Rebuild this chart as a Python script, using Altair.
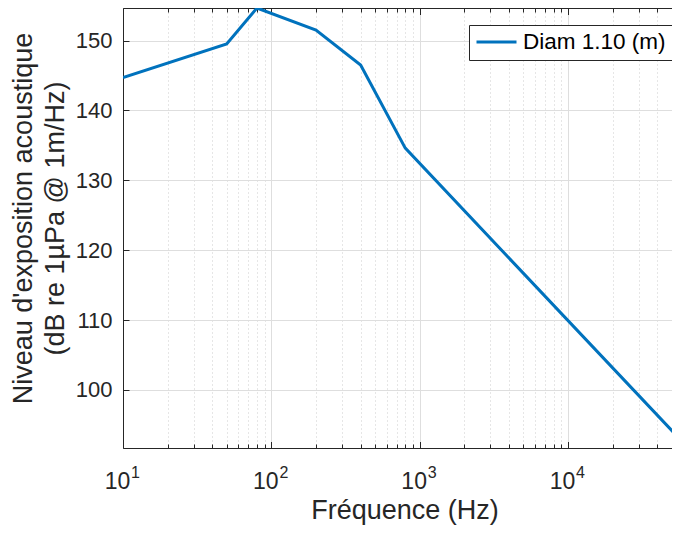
import altair as alt
import pandas as pd

# ---- data ----
freq = [10, 50, 80, 200, 400, 800, 64000]
level = [144.7, 149.5, 154.65, 151.5, 146.5, 134.6, 91.8]
series_name = "Diam 1.10 (m)"

decades = [10, 100, 1000, 10000]
exponents = ["1", "2", "3", "4"]
minor_mult = [2, 3, 4, 5, 6, 7, 8, 9]
y_ticks = [100, 110, 120, 130, 140, 150]
x_domain = [10, 50250]
y_domain = [91.7, 154.65]

W, H = 549, 440
FONT = "Liberation Sans"
INK = "#262626"

all_x_ticks = sorted(decades + [m * d for d in decades for m in minor_mult if m * d <= x_domain[1]])
major_test = "indexof([" + ",".join(str(d) for d in decades) + "], datum.value) >= 0"
exp_expr = " : ".join(f"datum.value == {d} ? '{e}'" for d, e in zip(decades, exponents)) + " : ''"

df = pd.DataFrame({"freq": freq, "level": level, "series": [series_name] * len(freq)})

xs = alt.Scale(type="log", domain=x_domain, nice=False)
ys = alt.Scale(domain=y_domain, nice=False, zero=False)

# Layer 1: visible line, bottom labels "10", left labels, y grid, titles
line = alt.Chart(df).mark_line(strokeWidth=3, clip=True).encode(
    x=alt.X("freq:Q", scale=xs, axis=alt.Axis(
        orient="bottom", values=decades, labelExpr="'10'", labelFontSize=23,
        labelOffset=-6, labelPadding=40, labelBaseline="alphabetic", labelFlush=False,
        labelOverlap=False, labelColor=INK, labelFont=FONT,
        ticks=False, tickSize=0, domain=True, domainColor=INK, domainWidth=1,
        grid=False, title="Fréquence (Hz)", titleFontSize=27, titleFont=FONT,
        titleFontWeight="normal", titleColor=INK, titleX=W / 2 + 7, titleY=70,
        titleBaseline="alphabetic", titleAlign="center")),
    y=alt.Y("level:Q", scale=ys, axis=alt.Axis(
        orient="left", values=y_ticks, labelFontSize=22, labelPadding=11,
        labelColor=INK, labelFont=FONT, labelFlush=False,
        ticks=False, tickSize=0, domain=True, domainColor=INK, domainWidth=1,
        grid=True, gridColor="#dedede", gridWidth=1,
        title=["Niveau d'exposition acoustique", "(dB re 1µPa @ 1m/Hz)"],
        titleFontSize=27, titleFont=FONT, titleFontWeight="normal", titleColor=INK,
        titleAngle=270, titleX=-92, titleY=210, titleAlign="center",
        titleBaseline="alphabetic", titleLineHeight=32)),
    color=alt.Color("series:N", scale=alt.Scale(domain=[series_name], range=["#0072BD"]),
                    legend=alt.Legend(
                        orient="none", legendX=346, legendY=17, title=None,
                        strokeColor=INK, fillColor="white", padding=6,
                        symbolType="stroke", symbolSize=1600, symbolStrokeWidth=3,
                        clipHeight=22, labelFontSize=22.5, labelFont=FONT,
                        labelColor="#000000", labelOffset=5, cornerRadius=0)),
)

# Layer 2: exponent labels + x grid (major solid, minor dotted), inward y ticks
layer2 = alt.Chart(df).mark_point(opacity=0).encode(
    x=alt.X("freq:Q", scale=xs, axis=alt.Axis(
        orient="bottom", values=all_x_ticks, labelExpr=exp_expr, labelFontSize=16,
        labelOffset=12, labelPadding=29, labelBaseline="alphabetic", labelFlush=False,
        labelOverlap=False, labelColor=INK, labelFont=FONT,
        ticks=False, tickSize=0, domain=False,
        grid=True,
        gridDash={"condition": {"test": major_test, "value": []}, "value": [1, 3]},
        gridColor={"condition": {"test": major_test, "value": "#dedede"}, "value": "#cccccc"},
        title=None)),
    y=alt.Y("level:Q", scale=ys, axis=alt.Axis(
        orient="right", offset=-W, values=y_ticks, labels=False, ticks=True,
        tickSize=6, tickColor=INK, tickWidth=1, domain=False, grid=False, title=None)),
)

tick_size = {"condition": {"test": major_test, "value": 6.5}, "value": 4}

# Layer 3: inward ticks along the bottom edge
layer3 = alt.Chart(df).mark_point(opacity=0).encode(
    x=alt.X("freq:Q", scale=xs, axis=alt.Axis(
        orient="top", offset=-H, values=all_x_ticks, labels=False, ticks=True,
        tickSize=tick_size, tickColor=INK, tickWidth=1, domain=False, grid=False,
        title=None)),
    y=alt.Y("level:Q", scale=ys, axis=None),
)

# Layer 4: top border with inward ticks
layer4 = alt.Chart(df).mark_point(opacity=0).encode(
    x=alt.X("freq:Q", scale=xs, axis=alt.Axis(
        orient="bottom", offset=-H, values=all_x_ticks, labels=False, ticks=True,
        tickSize=tick_size, tickColor=INK, tickWidth=1, domain=True,
        domainColor=INK, domainWidth=1, grid=False, title=None)),
    y=alt.Y("level:Q", scale=ys, axis=None),
)

chart = alt.layer(layer2, layer3, layer4, line).resolve_axis(
    x="independent", y="independent"
).properties(
    width=W, height=H,
    autosize=alt.AutoSizeParams(type="none"),
    padding={"left": 115, "top": 0, "right": 0, "bottom": 77},
).configure_view(stroke=None).configure(background="white")

chart.save("out.html", embed_options={"renderer": "svg", "actions": False})
